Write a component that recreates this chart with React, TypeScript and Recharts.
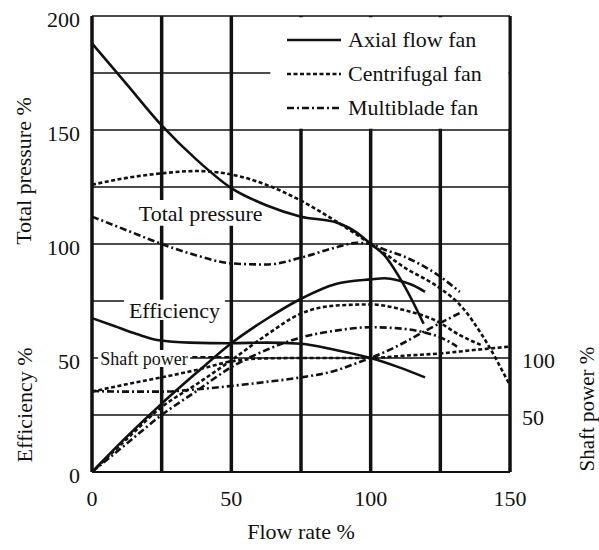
import {
  CartesianGrid,
  Label,
  Legend,
  Line,
  LineChart,
  ReferenceArea,
  ReferenceLine,
  XAxis,
  YAxis,
} from "recharts";

const SERIF = "'Liberation Serif', 'Times New Roman', serif";
const INK = "#111";

// axis ticks: flow rate %, total pressure / efficiency % (left), shaft power % (right)
const flowTicks = [0, 25, 50, 75, 100, 125, 150];
const flowLabels = [0, 50, 100, 150];
const leftTicks = [0, 25, 50, 75, 100, 125, 150, 175, 200];
const leftLabels = [0, 50, 100, 150, 200];
const rightTicks = [50, 100];

const fans = ["Axial flow fan", "Centrifugal fan", "Multiblade fan"];

// Axial flow fan
const axialPressureFlow = [0, 12.5, 25, 37.5, 50, 62.5, 75, 87.5, 95, 100, 105, 110, 115, 119];
const axialPressure = [188, 170, 152, 137, 124.5, 117, 112, 109.5, 105, 100, 95, 86, 75, 65];
const axialEffFlow = [0, 12.5, 25, 37.5, 50, 62.5, 75, 87.5, 100, 105, 110, 115, 119.5];
const axialEff = [0, 15.5, 30, 43.5, 56.5, 67, 76, 82.5, 84.5, 85, 84, 82, 79];
const axialPowerFlow = [0, 8, 16, 24, 35, 50, 62.5, 75, 87.5, 100, 110, 119.5];
const axialPower = [135, 128, 121, 115.5, 113.5, 113, 113.5, 112.5, 107, 100, 92, 83];

// Centrifugal fan
const centPressureFlow = [0, 12.5, 25, 37.5, 50, 62.5, 75, 87.5, 100, 106, 113, 119, 125, 133, 140, 150];
const centPressure = [126, 129, 131, 132, 130.5, 126, 119, 110, 100, 95, 89, 85, 80.5, 72, 60, 38];
const centEffFlow = [0, 12.5, 25, 37.5, 50, 62.5, 75, 87.5, 100, 112, 124, 132, 140];
const centEff = [0, 14.5, 28.5, 38.5, 49, 60, 69.5, 73, 73.5, 71, 66, 60, 55.5];
const centPowerFlow = [0, 12.5, 25, 37.5, 50, 60, 75, 100, 112, 125, 137, 150];
const centPower = [70.5, 77, 83, 89.5, 97, 99.5, 100, 100, 102, 104, 107, 110];

// Multiblade fan
const multiPressureFlow = [0, 12.5, 25, 37.5, 50, 62.5, 75, 87.5, 95, 100, 104, 112, 124, 132];
const multiPressure = [112, 106, 100, 95, 91.5, 91, 94, 98.5, 100.5, 100, 98, 94.5, 86.5, 79];
const multiEffFlow = [0, 12.5, 25, 37.5, 50, 62.5, 75, 87.5, 100, 110, 120, 126, 131];
const multiEff = [0, 12.5, 25, 35.5, 46, 53.5, 59, 62, 63.5, 63, 61, 58.5, 55];
const multiPowerFlow = [0, 12.5, 25, 37.5, 50, 62.5, 75, 87.5, 95, 100, 110, 119, 132];
const multiPower = [71, 70.5, 70.5, 72.5, 75.5, 79, 83, 89, 95.5, 100, 111, 123, 139.5];

const dashes: Record<string, string | undefined> = {
  "Axial flow fan": undefined,
  "Centrifugal fan": "4 2.5",
  "Multiblade fan": "7 3 2 3",
};

const pts = (xs: number[], ys: number[]) => xs.map((flow, i) => ({ flow, v: ys[i] }));

const series = [
  { key: "axialP", fan: fans[0], axis: "left", data: pts(axialPressureFlow, axialPressure) },
  { key: "axialE", fan: fans[0], axis: "left", data: pts(axialEffFlow, axialEff) },
  { key: "axialS", fan: fans[0], axis: "right", data: pts(axialPowerFlow, axialPower) },
  { key: "centP", fan: fans[1], axis: "left", data: pts(centPressureFlow, centPressure) },
  { key: "centE", fan: fans[1], axis: "left", data: pts(centEffFlow, centEff) },
  { key: "centS", fan: fans[1], axis: "right", data: pts(centPowerFlow, centPower) },
  { key: "multiP", fan: fans[2], axis: "left", data: pts(multiPressureFlow, multiPressure) },
  { key: "multiE", fan: fans[2], axis: "left", data: pts(multiEffFlow, multiEff) },
  { key: "multiS", fan: fans[2], axis: "right", data: pts(multiPowerFlow, multiPower) },
];

const textStyle = { fill: INK, fontSize: 22, fontFamily: SERIF };

// rotated axis title, placed relative to the axis box
const axisTitle =
  (text: string, dx: number, fy: number, size = 22) =>
  (props: any) => {
    const vb = props.viewBox ?? { x: 0, y: 0, width: 0, height: 0 };
    const cx = vb.x + dx;
    const cy = vb.y + vb.height * fy;
    return (
      <text
        x={cx}
        y={cy}
        transform={`rotate(-90 ${cx} ${cy})`}
        textAnchor="middle"
        dominantBaseline="central"
        {...textStyle}
        fontSize={size}
      >
        {text}
      </text>
    );
  };

function FanLegend() {
  return (
    <div style={{ fontFamily: SERIF, fontSize: 22, color: INK }}>
      {fans.map((name) => (
        <div key={name} style={{ display: "flex", alignItems: "center", height: 34 }}>
          <svg width={54} height={8}>
            <line
              x1={0}
              y1={4}
              x2={54}
              y2={4}
              stroke={INK}
              strokeWidth={2.6}
              strokeDasharray={dashes[name]}
            />
          </svg>
          <span style={{ marginLeft: 7, lineHeight: "34px" }}>{name}</span>
        </div>
      ))}
    </div>
  );
}

export default function App() {
  return (
    <div style={{ position: "absolute", left: 0, top: 0, background: "#fff" }}>
      <LineChart width={599} height={550} margin={{ top: 16, right: 0, bottom: 0, left: 0 }}>
        <CartesianGrid yAxisId="left" vertical={false} stroke={INK} strokeWidth={1.3} />
        <CartesianGrid yAxisId="left" horizontal={false} stroke={INK} strokeWidth={3.5} />
        <XAxis
          dataKey="flow"
          type="number"
          domain={[0, 150]}
          ticks={flowTicks}
          tickFormatter={(v) => (flowLabels.includes(v) ? String(v) : "")}
          height={78}
          tickSize={0}
          tickMargin={18}
          axisLine={{ stroke: INK, strokeWidth: 2 }}
          tick={textStyle}
        >
          <Label
            content={(p: any) => {
              const vb = p.viewBox;
              return (
                <text
                  x={vb.x + vb.width / 2}
                  y={vb.y + 59}
                  textAnchor="middle"
                  dominantBaseline="central"
                  {...textStyle}
                >
                  Flow rate %
                </text>
              );
            }}
          />
        </XAxis>
        <YAxis
          yAxisId="left"
          type="number"
          domain={[0, 200]}
          ticks={leftTicks}
          tickFormatter={(v) => (leftLabels.includes(v) ? String(v) : "")}
          width={92}
          tickSize={0}
          tickMargin={12}
          axisLine={false}
          tick={{ ...textStyle, dy: 3 }}
        >
          <Label content={axisTitle("Total pressure %", 24, 0.34)} />
          <Label content={axisTitle("Efficiency %", 25, 0.853)} />
        </YAxis>
        <YAxis
          yAxisId="right"
          orientation="right"
          type="number"
          domain={[0, 400]}
          ticks={rightTicks}
          width={89}
          tickSize={0}
          tickMargin={12}
          axisLine={false}
          tick={{ ...textStyle, dy: 2 }}
        >
          <Label content={axisTitle("Shaft power %", 77, 0.862, 21)} />
        </YAxis>

        {/* legend box hides the grid behind it */}
        <ReferenceArea yAxisId="left" x1={64} x2={149.4} y1={150.6} y2={199.5} fill="#fff" fillOpacity={1} stroke="none" />
        <ReferenceArea
          yAxisId="left"
          x1={16}
          x2={62}
          y1={108}
          y2={119.3}
          fill="#fff"
          fillOpacity={1}
          stroke="none"
          label={{ value: "Total pressure", position: "center", ...textStyle }}
        />
        <ReferenceArea
          yAxisId="left"
          x1={11.5}
          x2={47.7}
          y1={66.7}
          y2={75.5}
          fill="#fff"
          fillOpacity={1}
          stroke="none"
          label={{ value: "Efficiency", position: "center", ...textStyle }}
        />
        <ReferenceArea
          yAxisId="left"
          x1={2.2}
          x2={35.2}
          y1={46}
          y2={53.5}
          fill="#fff"
          fillOpacity={1}
          stroke="none"
          label={{ value: "Shaft power", position: "center", ...textStyle, fontSize: 18 }}
        />
        <ReferenceLine
          yAxisId="left"
          segment={[
            { x: 36, y: 50.4 },
            { x: 50, y: 50.4 },
          ]}
          stroke={INK}
          strokeWidth={2}
          strokeDasharray="5 3"
        />

        {series.map((s) => (
          <Line
            key={s.key}
            data={s.data}
            dataKey="v"
            yAxisId={s.axis}
            type="monotone"
            stroke={INK}
            strokeWidth={2.6}
            strokeDasharray={dashes[s.fan]}
            dot={false}
            activeDot={false}
            isAnimationActive={false}
          />
        ))}

        <Legend
          layout="horizontal"
          align="center"
          verticalAlign="middle"
          wrapperStyle={{ left: 287, top: 23, width: 224 }}
          content={() => <FanLegend />}
        />
      </LineChart>
    </div>
  );
}
